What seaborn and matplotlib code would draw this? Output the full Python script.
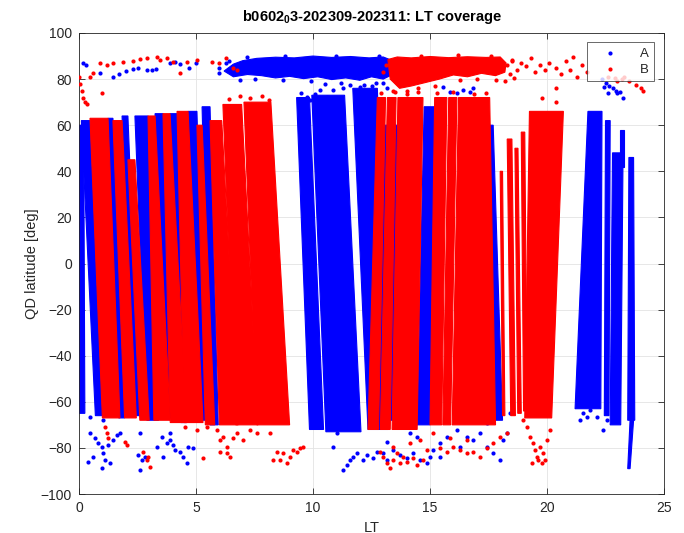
import matplotlib
matplotlib.use("Agg")
import matplotlib.pyplot as plt
import seaborn as sns
import pandas as pd

# ---------------- data ----------------
# dense track bands of satellite A: LT at top (left/right), LT at bottom (left/right), lat top, lat bottom
A_top_l = [0.00, 0.10, 1.24, 1.84, 2.39, 3.25, 3.89, 4.66, 5.26, 9.30, 9.95, 11.70, 13.00, 14.75, 17.30, 21.75, 22.50, 22.80, 23.10, 23.50, 23.55]
A_top_r = [0.20, 0.47, 1.45, 2.09, 2.95, 3.59, 4.19, 5.04, 5.60, 9.85, 11.35, 12.75, 13.70, 15.20, 17.70, 22.35, 22.70, 23.25, 23.30, 23.70, 23.70]
A_bot_l = [0.00, 0.70, 1.70, 2.35, 2.90, 3.70, 4.35, 5.05, 5.60, 9.85, 10.55, 12.35, 12.70, 14.45, 17.80, 21.20, 22.45, 22.70, 23.10, 23.45, 23.45]
A_bot_r = [0.25, 1.00, 1.95, 2.60, 3.40, 4.05, 4.60, 5.40, 5.95, 10.45, 12.05, 13.20, 13.45, 15.00, 18.10, 22.30, 22.65, 23.15, 23.30, 23.75, 23.55]
A_lat_t = [60, 62, 63, 64, 64, 65, 65, 66, 68, 72, 73, 76, 60, 68, 60, 66, 62, 48, 58, 46, -68]
A_lat_b = [-65, -66, -67, -66, -68, -67, -69, -68, -70, -72, -73, -72, -68, -70, -68, -63, -66, -70, 42, -68, -89]

# dense track bands of satellite B
B_top_l = [0.47, 1.45, 2.09, 2.95, 3.59, 4.19, 5.04, 5.60, 6.15, 7.05, 12.75, 13.18, 13.63, 15.20, 15.80, 16.22, 18.00, 18.30, 18.63, 18.90, 19.25]
B_top_r = [1.24, 1.84, 2.39, 3.25, 3.89, 4.66, 5.26, 6.10, 6.95, 8.20, 13.10, 13.55, 14.70, 15.72, 16.15, 17.55, 18.10, 18.50, 18.76, 19.05, 20.70]
B_bot_l = [1.00, 1.95, 2.60, 3.20, 3.90, 4.50, 5.40, 6.00, 6.70, 7.60, 12.35, 12.88, 13.38, 15.00, 15.55, 15.95, 18.10, 18.45, 18.75, 19.00, 19.05]
B_bot_r = [1.75, 2.45, 3.00, 3.90, 4.60, 5.30, 5.80, 6.80, 7.65, 9.00, 12.80, 13.30, 14.45, 15.50, 15.88, 17.80, 18.20, 18.65, 18.90, 19.15, 20.20]
B_lat_t = [63, 62, 45, 64, 65, 66, 60, 62, 69, 70, 72, 72, 72, 72, 72, 72, 40, 54, 50, 57, 66]
B_lat_b = [-67, -67, -68, -68, -69, -69, -70, -70, -70, -70, -72, -72, -72, -70, -70, -70, -66, -66, -65, -64, -67]

# dense polar caps (outline of the dense point clouds)
A_cap_lt = [6.2, 6.6, 7.0, 7.6, 8.4, 9.2, 10.0, 10.8, 11.6, 12.4, 13.0, 13.4, 13.5, 13.3, 13.0, 12.5, 12.0, 11.4,
            10.8, 10.2, 9.6, 9.0, 8.4, 7.8, 7.2, 6.6]
A_cap_lat = [83.5, 86.5, 88.0, 89.0, 89.5, 89.2, 90.0, 89.4, 89.8, 89.2, 89.6, 88.0, 84.5, 81.5, 80.0, 81.0, 79.5, 80.5,
             79.8, 81.0, 80.2, 81.2, 80.5, 81.5, 82.0, 81.0]
B_cap_lt = [13.2, 13.6, 14.2, 15.0, 15.8, 16.6, 17.4, 18.0, 18.25, 18.2, 17.8, 17.2, 16.6, 16.0, 15.4, 14.8, 14.2, 13.7, 13.3]
B_cap_lat = [88.5, 89.6, 89.2, 89.8, 89.3, 89.7, 89.4, 89.6, 87.0, 83.0, 81.5, 82.5, 81.0, 81.8, 80.0, 78.5, 77.0, 76.0, 80.0]

# scattered samples of satellite A
A_lt = [0.17, 0.30, 0.90, 1.45, 1.70, 2.00, 2.30, 2.50, 2.90, 3.10, 3.30, 3.90, 4.10, 4.30, 4.70, 5.00, 6.00, 6.30, 6.75,
        6.0, 6.4, 7.2, 8.8, 11.0, 12.8, 13.6, 13.7, 12.7, 11.2, 9.9, 8.7, 7.5, 6.9, 10.5, 12.2,
        9.74, 9.87, 10.30, 10.60, 10.85, 11.28, 12.01, 12.31, 12.99, 13.16, 15.56, 15.86, 16.15, 16.41, 16.71, 16.84,
        9.5, 10.1, 11.6, 12.5,
        22.35, 22.50, 22.65, 22.80, 22.95, 23.10, 22.60, 23.00, 23.25, 22.45,
        0.04, 0.47, 1.03, 0.47, 0.68, 0.81, 0.98, 1.03, 1.11, 0.98, 0.38, 0.60, 1.24, 1.45, 1.62, 1.75, 1.32, 2.61, 2.52,
        2.69, 2.61, 2.82, 3.33, 3.55, 3.76, 3.89, 4.02, 4.10, 4.32, 4.45, 4.62, 4.66, 4.87, 3.59, 3.89,
        11.28, 11.45, 11.58, 11.71, 11.88, 12.14, 12.31, 12.56, 12.74, 12.99, 13.16, 13.42, 13.72, 14.02, 14.27, 14.57,
        14.87, 15.00, 15.13, 15.43, 15.73, 16.15, 16.58, 16.84, 17.14, 17.44, 17.69, 17.99, 18.12, 18.29, 14.15, 14.44,
        13.16, 15.43, 16.28, 17.44, 17.99, 18.42, 10.85, 11.03,
        21.41, 21.54, 21.71, 21.84, 22.14, 22.39, 22.56, 22.82, 22.99]
A_lat = [87.0, 86.0, 82.6, 81.0, 82.0, 83.5, 84.5, 85.0, 84.0, 84.0, 84.5, 87.0, 87.5, 86.5, 85.0, 87.0, 85.0, 87.0, 85.0,
         82.5, 88.0, 89.6, 90.0, 90.2, 90.0, 86.0, 82.0, 78.5, 78.3, 79.0, 79.5, 80.0, 79.6, 78.0, 77.5,
         72.2, 70.9, 75.3, 72.2, 75.3, 76.1, 76.6, 74.0, 78.3, 76.1, 76.6, 74.4, 74.0, 75.3, 74.4, 76.1,
         74.0, 73.5, 77.5, 77.0,
         80.0, 78.5, 77.0, 76.0, 75.0, 74.5, 74.0, 74.0, 71.8, 76.5,
         -63.6, -66.6, -67.9, -73.5, -75.7, -77.9, -79.6, -82.2, -85.2, -88.7, -86.1, -84.0, -78.7, -76.5, -74.4, -73.5, -86.5, -73.5, -83.0,
         -85.2, -89.5, -83.9, -79.6, -75.3, -77.9, -73.5, -78.7, -80.9, -81.8, -84.0, -86.5, -79.6, -80.0, -84.0, -76.5,
         -89.6, -87.4, -85.2, -83.9, -82.2, -85.2, -83.0, -84.4, -81.8, -82.2, -85.2, -80.9, -83.0, -84.4, -82.2, -85.2,
         -86.5, -83.9, -80.9, -77.9, -75.3, -72.2, -75.3, -76.5, -73.5, -79.6, -82.2, -85.2, -76.5, -73.5, -73.5, -75.3,
         -77.5, -83.9, -79.6, -69.2, -66.6, -64.8, -79.6, -73.5,
         -67.9, -64.8, -66.6, -63.6, -66.6, -72.2, -67.9, -66.6, -64.8]

# scattered samples of satellite B
B_lt = [0.00, 0.04, 0.13, 0.17, 0.26, 0.34, 0.47, 0.60, 1.00,
        0.90, 1.20, 1.45, 1.90, 2.30, 2.60, 2.90, 3.33, 3.46, 3.76, 4.00, 4.30, 4.60, 5.04,
        5.70, 6.00, 6.30, 6.60, 6.75,
        13.1, 13.0, 13.5, 14.0, 14.5, 15.2, 16.3, 17.0, 17.8, 18.4, 18.5, 14.6, 16.2, 17.6, 13.8,
        6.4, 6.9, 7.3, 7.8, 8.1, 12.9, 13.4, 14.0, 14.5, 15.3, 16.0, 16.9, 17.4,
        18.30, 18.50, 18.70, 18.90, 19.10, 19.30, 19.50, 19.70, 19.90, 20.10, 20.40, 20.60, 20.80, 21.00, 21.10, 21.30,
        21.50, 21.70, 19.80, 20.40, 20.40, 18.20, 18.60,
        22.60, 22.90, 23.20, 23.50, 23.80, 24.00, 24.10, 23.30, 23.00,
        1.11, 1.20, 1.24, 1.97, 2.05, 2.74, 2.90, 3.03, 2.95, 4.53, 5.04, 5.30, 5.47, 5.90, 6.03, 6.15, 6.32, 6.45,
        6.58, 6.75, 7.00, 7.30, 7.60, 8.16, 8.46, 8.59, 8.72, 8.89, 9.02, 9.15, 9.32, 9.44, 9.57, 8.29, 6.03, 6.32,
        12.99, 13.16, 13.29, 13.42, 13.59, 13.72, 13.85, 14.02, 14.27, 14.44, 14.70, 12.86, 15.43, 15.73, 15.98, 16.28,
        16.58, 16.84, 17.14, 17.44, 17.69, 17.99, 18.29, 13.42, 14.15, 14.57, 15.13, 15.86, 16.58, 14.87,
        18.97, 19.15, 19.27, 19.40, 19.49, 19.57, 19.36, 19.70, 19.83, 19.91, 20.00, 20.13, 19.62, 19.79]
B_lat = [81.0, 78.0, 75.0, 72.0, 70.0, 69.0, 81.0, 82.5, 74.0,
         87.0, 86.0, 87.0, 87.5, 88.0, 88.7, 89.0, 89.6, 88.3, 89.0, 87.4, 82.6, 87.4, 88.3,
         87.4, 87.0, 89.0, 85.0, 84.0,
         86.0, 83.0, 74.5, 75.0, 76.0, 77.0, 79.5, 80.0, 79.8, 82.0, 88.5, 90.2, 90.3, 90.2, 78.0,
         71.5, 72.5, 71.8, 72.8, 71.0, 74.0, 75.0, 73.5, 74.5, 73.8, 74.5, 73.5, 74.0,
         86.0, 88.0, 84.0, 87.0, 85.5, 89.0, 83.0, 86.0, 84.0, 87.0, 85.0, 82.0, 88.0, 84.0, 89.6, 81.0,
         86.0, 83.0, 72.0, 76.0, 70.0, 79.0, 80.5,
         81.0, 80.5, 80.0, 79.0, 77.5, 76.0, 75.0, 81.0, 79.0,
         -70.9, -73.5, -75.7, -77.5, -78.7, -81.8, -85.2, -88.3, -83.9, -70.9, -72.2, -84.4, -70.9, -72.2, -76.5, -75.3, -79.6, -83.9,
         -75.7, -73.5, -76.5, -72.2, -73.5, -73.5, -81.8, -85.2, -82.2, -86.5, -83.9, -80.9, -81.8, -80.0, -79.6, -85.2, -81.8, -82.2,
         -83.9, -86.5, -88.7, -85.2, -82.2, -86.5, -83.9, -86.1, -84.4, -87.4, -85.2, -81.8, -80.0, -81.8, -79.6, -80.9,
         -82.2, -81.8, -83.9, -80.0, -77.9, -75.3, -73.5, -79.6, -77.9, -76.5, -73.5, -75.7, -76.5, -80.9,
         -67.9, -70.9, -75.3, -77.9, -80.9, -83.9, -86.5, -79.6, -82.2, -85.2, -76.5, -72.2, -85.2, -86.5]

x_ticks = [0, 5, 10, 15, 20, 25]
y_ticks = [-100, -80, -60, -40, -20, 0, 20, 40, 60, 80, 100]
title = "b0602$_0$3-202309-202311: LT coverage"
colors = {"A": "#0000ff", "B": "#ff0000"}

# ---------------- figure ----------------
sns.set_theme(style="white")
plt.rcParams["font.family"] = ["Liberation Sans", "DejaVu Sans"]
plt.rcParams["mathtext.fontset"] = "custom"
plt.rcParams["mathtext.rm"] = "Liberation Sans:bold"
plt.rcParams["mathtext.it"] = "Liberation Sans:bold"

fig = plt.figure(figsize=(6.84, 5.33), dpi=100)
ax = fig.add_axes([79 / 684, 39 / 533, 585 / 684, 461 / 533])


def draw_bands(tl, tr, bl, br, lt, lb, color, z):
    for i in range(len(tl)):
        ax.fill([tl[i], tr[i], br[i], bl[i]], [lt[i], lt[i], lb[i], lb[i]],
                color=color, lw=0.8, zorder=z)


# satellite A first
draw_bands(A_top_l, A_top_r, A_bot_l, A_bot_r, A_lat_t, A_lat_b, colors["A"], 2.0)
ax.fill(A_cap_lt, A_cap_lat, color=colors["A"], lw=0.8, zorder=2.0)
dfA = pd.DataFrame({"LT": A_lt, "lat": A_lat})
sns.scatterplot(data=dfA, x="LT", y="lat", color=colors["A"], s=9, linewidth=0,
                ax=ax, zorder=2.1, label="A")

# satellite B on top
draw_bands(B_top_l, B_top_r, B_bot_l, B_bot_r, B_lat_t, B_lat_b, colors["B"], 3.0)
ax.fill(B_cap_lt, B_cap_lat, color=colors["B"], lw=0.8, zorder=3.0)
dfB = pd.DataFrame({"LT": B_lt, "lat": B_lat})
sns.scatterplot(data=dfB, x="LT", y="lat", color=colors["B"], s=9, linewidth=0,
                ax=ax, zorder=3.1, label="B")

ax.set_xlim(0, 25)
ax.set_ylim(-100, 100)
ax.set_xticks(x_ticks)
ax.set_yticks(y_ticks)
ax.grid(True, color="#e3e3e3", lw=0.6)
ax.set_axisbelow(True)
for sp in ax.spines.values():
    sp.set_color("#262626")
    sp.set_linewidth(0.6)
    sp.set_visible(True)
ax.tick_params(direction="in", length=4, width=0.6, colors="#262626",
               labelsize=10, top=True, right=True, bottom=True, left=True, pad=5)
ax.set_xlabel("LT", fontsize=10.5, color="#262626", labelpad=4)
ax.set_ylabel("QD latitude [deg]", fontsize=10.5, color="#262626", labelpad=1)
ax.set_title(title, fontsize=10.5, fontweight="bold", color="black", pad=9)

leg = ax.legend(loc="upper right", bbox_to_anchor=(0.983, 0.9805), borderaxespad=0,
                frameon=True, fancybox=False, edgecolor="#262626", fontsize=9.5,
                handlelength=2.6, handletextpad=1.0, borderpad=0.4, labelspacing=0.3,
                markerscale=1.0)
leg.get_frame().set_linewidth(0.6)
leg.set_zorder(5)

fig.savefig("out.png", dpi=100)
